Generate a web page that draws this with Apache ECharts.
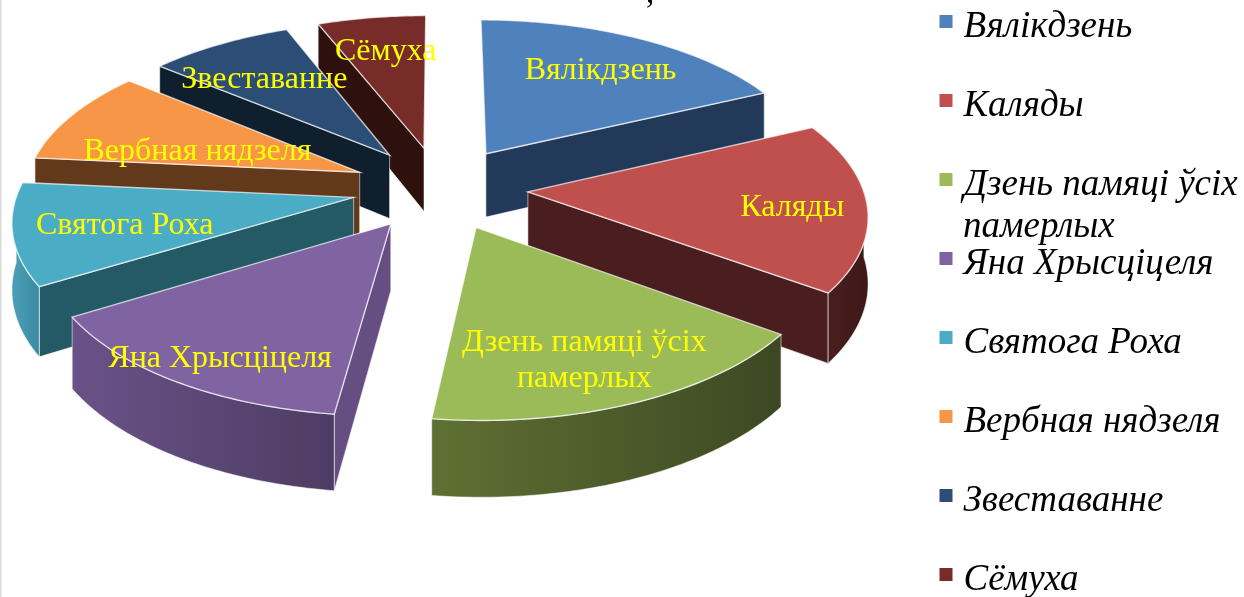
<!DOCTYPE html>
<html><head><meta charset="utf-8">
<style>html,body{margin:0;padding:0;background:#fff}#c{width:1244px;height:597px}</style>
<script src="https://cdn.jsdelivr.net/npm/echarts@6/dist/echarts.min.js"></script>
</head><body><div id="c"></div>
<script>
const categories = ['Вялікдзень','Каляды','Дзень памяці ўсіх памерлых','Яна Хрысціцеля','Святога Роха','Вербная нядзеля','Звеставанне','Сёмуха'];
const values = [18,17,17,14.3,10.2,9.5,8,6];
const topColors = ['#4f81bd','#c0504d','#9bbb59','#8064a2','#4bacc6','#f79646','#2c4d75','#772c2a'];
const wallColors = ['#23395a','#4a1e1e','#3f4a23','#654e82','#245a66','#63391c','#101f2e','#2e100c'];
const outerLeft = ['#23395a','#4a1e1e','#5f7033','#6a5288','#4ba0b8','#63391c','#101f2e','#2e100c'];
const outerRight = ['#23395a','#3d1818','#3d4823','#4d3c63','#3a8aa0','#63391c','#101f2e','#2e100c'];
const labelLines = ['Вялікдзень','Каляды','Дзень памяці ўсіх\nпамерлых','Яна Хрысціцеля','Святога Роха','Вербная нядзеля','Звеставанне','Сёмуха'];
const labelFrac = [.71,.78,.77,.85,.68,.52,.68,.72];
const labelSweep = [.51,.53,.54,.46,.46,.28,.43,.51];

const cx=440, cy=188, R=335, D=2700, T=.473, H=65, E=88;
const total = values.reduce((a,b)=>a+b,0);
const startAngle = 0;
function range(i){
  let s=0; for(let k=0;k<i;k++) s+=values[k];
  return [startAngle+s/total*360, startAngle+(s+values[i])/total*360];
}
function proj(X,Z,h){const s=D/(D-Z);return [cx+X*s, cy+T*Z*s+(h||0)*s];}
function pt(i,a,r,h){
  const [a0,a1]=range(i), m=(a0+a1)/2*Math.PI/180, t=a*Math.PI/180;
  const X=E*Math.sin(m)+r*Math.sin(t), Z=-E*Math.cos(m)-r*Math.cos(t);
  return proj(X,Z,h);
}
function arcPts(i,a0,a1,h){
  const out=[], n=Math.max(1,Math.ceil(a1-a0));
  for(let k=0;k<=n;k++) out.push(pt(i,a0+(a1-a0)*k/n,R,h));
  return out;
}
const faces=a=>-Math.cos(a*Math.PI/180)>0.02;
function sliceItem(i){
  return function(){
    const [a0,a1]=range(i);
    const apexT=pt(i,a0,0,0), apexB=pt(i,a0,0,H);
    const edge='rgba(255,255,255,0.55)';
    const wall=(pts,fill)=>({type:'polygon',shape:{points:pts},style:{fill:fill,stroke:edge,lineWidth:1}});
    const kids=[];
    if(faces(a0-90)) kids.push(wall([apexT,pt(i,a0,R,0),pt(i,a0,R,H),apexB],wallColors[i]));
    if(faces(a1+90)) kids.push(wall([apexT,pt(i,a1,R,0),pt(i,a1,R,H),apexB],wallColors[i]));
    const v0=Math.max(a0,90), v1=Math.min(a1,270);
    if(v1>v0){
      const outer=arcPts(i,v0,v1,0).concat(arcPts(i,v0,v1,H).reverse());
      kids.push(wall(outer,new echarts.graphic.LinearGradient(0,0,1,0,[{offset:0,color:outerLeft[i]},{offset:1,color:outerRight[i]}])));
    }
    kids.push({type:'polygon',shape:{points:[apexT].concat(arcPts(i,a0,a1,0))},style:{fill:topColors[i],stroke:'rgba(255,255,255,0.7)',lineWidth:1.4}});
    return {type:'group',children:kids};
  };
}
const depth=i=>{const [a,b]=range(i);return -Math.cos((a+b)/2*Math.PI/180);};
const rank=categories.map((_,i)=>i).sort((p,q)=>depth(p)-depth(q));

const series=categories.map((name,i)=>({
  type:'custom',name:name,coordinateSystem:'none',silent:true,animation:false,
  z:3+rank.indexOf(i),itemStyle:{color:topColors[i]},
  data:[values[i]],renderItem:sliceItem(i)
}));
series.push({
  type:'custom',name:'labels',coordinateSystem:'none',silent:true,animation:false,z:30,
  data:values,
  renderItem:function(params){
    const i=params.dataIndex,[a0,a1]=range(i),p=pt(i,a0+(a1-a0)*labelSweep[i],R*labelFrac[i],0);
    return {type:'text',x:p[0],y:p[1],style:{text:labelLines[i],fill:'#ffff00',font:'32px "Liberation Serif"',align:'center',verticalAlign:'middle',lineHeight:36}};
  }
});

const chart=echarts.init(document.getElementById('c'),null,{renderer:'canvas'});
chart.setOption({
  backgroundColor:'#fff',animation:false,
  legend:{
    data:categories,orient:'vertical',left:939.5,top:-3,height:640,padding:0,itemWidth:13,itemHeight:13,itemGap:30,
    icon:'rect',selectedMode:false,
    formatter:n=>'{t|'+n.replace(' памерлых','')+'}',
    textStyle:{rich:{t:{fontFamily:'Liberation Serif',fontStyle:'italic',fontSize:37,color:'#000',lineHeight:40,padding:[12,0,0,6]}}}
  },
  title:[
    {text:'памерлых',left:963,top:207,padding:0,textStyle:{fontFamily:'Liberation Serif',fontStyle:'italic',fontWeight:'normal',fontSize:37,color:'#000',lineHeight:40}},
    {text:',',left:646,top:-22,padding:0,textStyle:{fontFamily:'Liberation Serif',fontWeight:'normal',fontSize:33,color:'#000'}}
  ],
  graphic:[{type:'rect',shape:{x:0,y:0,width:1.5,height:597},style:{fill:'#d9d9d9'},silent:true}],
  series:series
});
</script></body></html>
